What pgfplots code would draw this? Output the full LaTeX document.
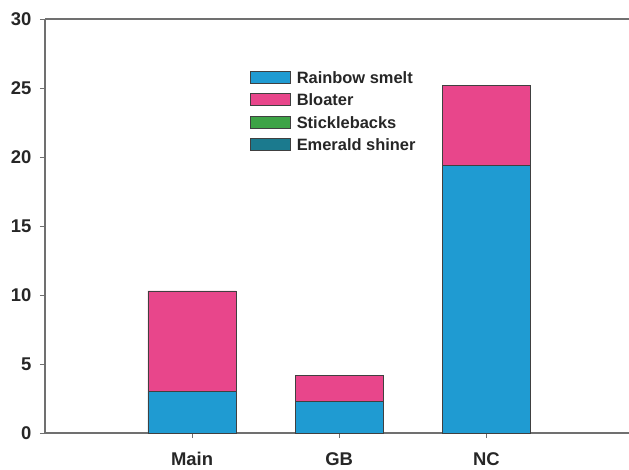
\documentclass[border=0pt]{standalone}
\usepackage{fontspec}
\setmainfont{Liberation Sans}
\usepackage{pgfplots}
\pgfplotsset{compat=1.18}
\definecolor{smelt}{HTML}{1F9BD2}
\definecolor{bloater}{HTML}{E8468B}
\definecolor{stickle}{HTML}{3DA346}
\definecolor{emerald}{HTML}{1B7A8E}
\definecolor{axgray}{HTML}{707070}
\begin{document}
\begin{tikzpicture}
\useasboundingbox (-45bp,-37bp) rectangle (584bp,433bp);
\begin{axis}[
  scale only axis,
  width=584bp, height=414bp,
  at={(0,0)}, anchor=south west,
  ybar stacked,
  bar width=0.6,
  xmin=-1, xmax=2.97,
  ymin=0, ymax=30,
  ytick={0,5,...,30},
  xtick={0,1,2},
  xticklabels={Main,GB,NC},
  axis x line*=bottom,
  axis y line*=left,
  axis line style={axgray, line width=1.2pt, -},
  tick style={axgray, line width=1pt},
  tick align=outside,
  major tick length=5bp,
  ticklabel style={font=\fontsize{18.5}{20}\selectfont\bfseries, text=black!85},
  /pgf/number format/assume math mode=true,
  xticklabel style={yshift=-11bp},
  yticklabel style={xshift=-5bp},
  legend style={at={(axis description cs:0.351,0.882)}, anchor=north west,
    draw=none, fill=none, font=\fontsize{16.5}{18}\selectfont\bfseries,
    row sep=4.5bp, inner sep=0pt, text=black!85,
    nodes={inner sep=1bp, text depth=0pt, minimum height=18bp}},
  legend cell align=left,
  legend image code/.code={\draw[#1, draw=black!75, line width=0.6pt] (0bp,-6bp) rectangle (40bp,6bp);},
  legend style={/tikz/every even column/.append style={column sep=0pt}},
  every axis plot/.append style={draw=black!75, line width=0.6pt},
]
\addplot[fill=smelt] coordinates {(0,3.0) (1,2.3) (2,19.4)};
\addplot[fill=bloater] coordinates {(0,7.3) (1,1.9) (2,5.8)};
\addlegendimage{fill=stickle}
\addlegendimage{fill=emerald}
\legend{\hspace{5bp}Rainbow smelt, \hspace{5bp}Bloater, \hspace{5bp}Sticklebacks, \hspace{5bp}Emerald shiner}
\draw[axgray, line width=1.2pt] (axis description cs:0,1) -- (axis description cs:1,1);
\end{axis}
\end{tikzpicture}
\end{document}
